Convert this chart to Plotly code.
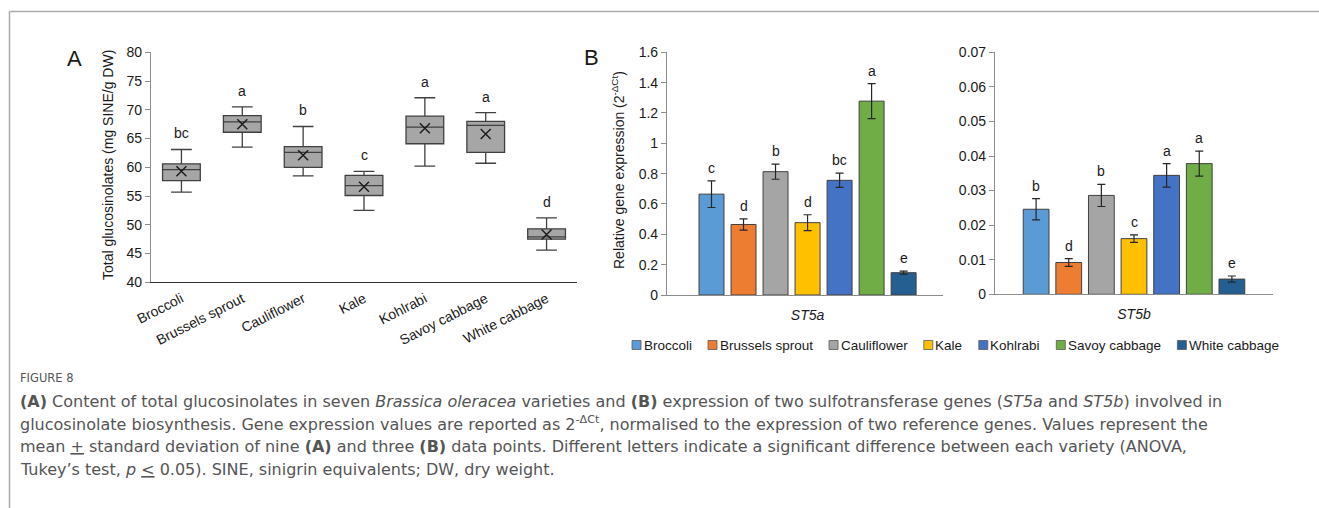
import plotly.graph_objects as go

W, H = 1319, 508

# ---------------- data ----------------
varieties = ["Broccoli", "Brussels sprout", "Cauliflower", "Kale", "Kohlrabi",
             "Savoy cabbage", "White cabbage"]
colors = ["#5B9BD5", "#ED7D31", "#A5A5A5", "#FFC000", "#4472C4", "#70AD47", "#255E91"]

# Panel A: total glucosinolates (mg SINE/g DW), box statistics
gl_lower = [55.7, 63.5, 58.5, 52.5, 60.2, 60.7, 45.6]
gl_q1 = [57.7, 66.1, 60.0, 55.1, 64.1, 62.6, 47.5]
gl_median = [59.6, 67.9, 62.6, 56.8, 67.0, 67.3, 47.9]
gl_q3 = [60.6, 69.0, 63.6, 58.6, 68.9, 68.0, 49.3]
gl_upper = [63.1, 70.5, 67.1, 59.3, 72.1, 69.5, 51.2]
gl_mean = [59.3, 67.5, 62.1, 56.6, 66.8, 65.8, 48.3]
gl_letters = ["bc", "a", "b", "c", "a", "a", "d"]
gl_yticks = [40, 45, 50, 55, 60, 65, 70, 75, 80]

# Panel B: relative gene expression
st5a_mean = [0.665, 0.465, 0.813, 0.477, 0.756, 1.278, 0.147]
st5a_sd = [0.088, 0.037, 0.050, 0.052, 0.047, 0.115, 0.010]
st5a_letters = ["c", "d", "b", "d", "bc", "a", "e"]
st5a_ticks = [0, 0.2, 0.4, 0.6, 0.8, 1.0, 1.2, 1.4, 1.6]
st5a_ticktext = ["0", "0.2", "0.4", "0.6", "0.8", "1", "1.2", "1.4", "1.6"]

st5b_mean = [0.0246, 0.0092, 0.0286, 0.0161, 0.0344, 0.0378, 0.0044]
st5b_sd = [0.0031, 0.0011, 0.0032, 0.0011, 0.0034, 0.0036, 0.0009]
st5b_letters = ["b", "d", "b", "c", "a", "a", "e"]
st5b_ticks = [0, 0.01, 0.02, 0.03, 0.04, 0.05, 0.06, 0.07]
st5b_ticktext = ["0", "0.01", "0.02", "0.03", "0.04", "0.05", "0.06", "0.07"]

genes = ["ST5a", "ST5b"]

caption_title = "FIGURE 8"
caption_lines = [
    "<b>(A)</b> Content of total glucosinolates in seven <i>Brassica oleracea</i> varieties and <b>(B)</b> expression of two sulfotransferase genes (<i>ST5a</i> and <i>ST5b</i>) involved in",
    "glucosinolate biosynthesis. Gene expression values are reported as 2<sup>-ΔCt</sup>, normalised to the expression of two reference genes. Values represent the",
    "mean <u>+</u> standard deviation of nine <b>(A)</b> and three <b>(B)</b> data points. Different letters indicate a significant difference between each variety (ANOVA,",
    "Tukey’s test, <i>p</i> <u>&lt;</u> 0.05). SINE, sinigrin equivalents; DW, dry weight.",
]

# ---------------- helpers ----------------
FONT = "Liberation Sans, Arial, sans-serif"
CAP_FONT = "DejaVu Sans, sans-serif"
TXT = "#1a1a1a"
FS = 14


def px_x(x):
    return x / W


def px_y(y):
    return 1 - y / H


fig = go.Figure()

# ---------------- Panel A ----------------
fig.add_trace(go.Box(
    x=varieties, q1=gl_q1, median=gl_median, q3=gl_q3,
    lowerfence=gl_lower, upperfence=gl_upper,
    fillcolor="#A6A6A6", line=dict(color="#404040", width=1.3),
    width=0.62, whiskerwidth=0.55, boxpoints=False,
    xaxis="x", yaxis="y", showlegend=False, hoverinfo="skip"))
fig.add_trace(go.Scatter(
    x=varieties, y=gl_mean, mode="markers",
    marker=dict(symbol="x-thin", size=10, line=dict(color="#1a1a1a", width=1.4)),
    xaxis="x", yaxis="y", showlegend=False, hoverinfo="skip"))

annotations = []
for v, up, lt in zip(varieties, gl_upper, gl_letters):
    annotations.append(dict(x=v, y=up, xref="x", yref="y", text=lt, showarrow=False,
                            xanchor="center", yanchor="bottom", yshift=6,
                            font=dict(family=FONT, size=FS, color=TXT)))

# ---------------- Panel B ----------------
for i, (name, col) in enumerate(zip(varieties, colors)):
    fig.add_trace(go.Bar(
        x=[i], y=[st5a_mean[i]], width=0.78, name=name,
        marker=dict(color=col, line=dict(color="#404040", width=1)),
        error_y=dict(type="data", array=[st5a_sd[i]], color="#262626", thickness=1.2, width=4),
        xaxis="x2", yaxis="y2", showlegend=False, hoverinfo="skip"))
    fig.add_trace(go.Bar(
        x=[i], y=[st5b_mean[i]], width=0.79, name=name,
        marker=dict(color=col, line=dict(color="#404040", width=1)),
        error_y=dict(type="data", array=[st5b_sd[i]], color="#262626", thickness=1.2, width=4),
        xaxis="x3", yaxis="y3", showlegend=False, hoverinfo="skip"))
    annotations.append(dict(x=i, y=st5a_mean[i] + st5a_sd[i], xref="x2", yref="y2",
                            text=st5a_letters[i], showarrow=False, xanchor="center",
                            yanchor="bottom", yshift=3,
                            font=dict(family=FONT, size=FS, color=TXT)))
    annotations.append(dict(x=i, y=st5b_mean[i] + st5b_sd[i], xref="x3", yref="y3",
                            text=st5b_letters[i], showarrow=False, xanchor="center",
                            yanchor="bottom", yshift=3,
                            font=dict(family=FONT, size=FS, color=TXT)))

# axis titles & panel letters
annotations.append(dict(x=px_x(108), y=px_y(165), xref="paper", yref="paper",
                        xanchor="center", yanchor="middle",
                        text="Total glucosinolates (mg SINE/g DW)", textangle=-90, showarrow=False,
                        font=dict(family=FONT, size=FS, color=TXT)))
annotations.append(dict(x=px_x(618), y=px_y(170), xref="paper", yref="paper",
                        xanchor="center", yanchor="middle",
                        text="Relative gene expression (2<sup>-ΔCt</sup>)", textangle=-90, showarrow=False,
                        font=dict(family=FONT, size=FS, color=TXT)))
annotations.append(dict(x=px_x(74), y=px_y(58), xref="paper", yref="paper", text="A",
                        xanchor="center", yanchor="middle",
                        showarrow=False, font=dict(family=FONT, size=22, color=TXT)))
annotations.append(dict(x=px_x(591), y=px_y(57), xref="paper", yref="paper", text="B",
                        xanchor="center", yanchor="middle",
                        showarrow=False, font=dict(family=FONT, size=22, color=TXT)))

# ---------------- manual legend ----------------
ARIAL_W = {"a": 556, "b": 556, "c": 500, "e": 556, "f": 278, "g": 556, "h": 556, "i": 222,
           "l": 222, "o": 556, "p": 556, "r": 333, "s": 500, "t": 278, "u": 556, "v": 500,
           "w": 722, "y": 500, " ": 278, "B": 667, "C": 722, "K": 667, "S": 667, "W": 944}
LEG_SIZE = 13.5


def text_w(s):
    return sum(ARIAL_W.get(ch, 556) for ch in s) * LEG_SIZE / 1000.0


shapes = []
lx = 632.0
ly = 345.0
for name, col in zip(varieties, colors):
    shapes.append(dict(type="rect", xref="paper", yref="paper",
                       x0=px_x(lx), x1=px_x(lx + 9), y0=px_y(ly + 4.5), y1=px_y(ly - 4.5),
                       fillcolor=col, line=dict(color="#595959", width=0.8)))
    annotations.append(dict(x=px_x(lx + 9.5), y=px_y(ly), xref="paper", yref="paper", text=name,
                            xanchor="left", yanchor="middle", showarrow=False,
                            font=dict(family=FONT, size=LEG_SIZE, color=TXT)))
    lx += 11 + text_w(name) + 17

# ---------------- caption ----------------
annotations.append(dict(x=px_x(18), y=px_y(378), xref="paper", yref="paper", text=caption_title,
                        xanchor="left", yanchor="middle", showarrow=False,
                        font=dict(family=CAP_FONT, size=11.5, color="#555555")))
for k, line in enumerate(caption_lines):
    annotations.append(dict(x=px_x(18), y=px_y(401 + 22.7 * k), xref="paper", yref="paper", text=line,
                            xanchor="left", yanchor="middle", showarrow=False,
                            font=dict(family=CAP_FONT, size=16, color="#555555")))

# frame lines
shapes.append(dict(type="line", xref="paper", yref="paper", x0=px_x(9.5), x1=px_x(9.5),
                   y0=0, y1=px_y(11.5), line=dict(color="#aaaaaa", width=1.5)))
shapes.append(dict(type="line", xref="paper", yref="paper", x0=px_x(9.5), x1=1,
                   y0=px_y(11.5), y1=px_y(11.5), line=dict(color="#aaaaaa", width=1.5)))

tickfont = dict(family=FONT, size=FS, color=TXT)
yax_common = dict(showgrid=False, zeroline=False, showline=True, linecolor="#8c8c8c", linewidth=1.2,
                  ticks="outside", ticklen=5, tickcolor="#8c8c8c", tickfont=tickfont, fixedrange=True,
                  automargin=False)

fig.update_layout(
    width=W, height=H, margin=dict(l=0, r=0, t=0, b=0, pad=0, autoexpand=False),
    paper_bgcolor="white", plot_bgcolor="white",
    barmode="overlay", showlegend=False,
    xaxis=dict(domain=[px_x(151), px_x(577)], range=[-0.5, 6.5], showgrid=False, zeroline=False,
               showline=True, linecolor="#333333", linewidth=1.2, ticks="", tickangle=-27,
               ticklabelstandoff=2, automargin=False,
               tickfont=tickfont, anchor="y"),
    yaxis=dict(domain=[px_y(282.3), px_y(52.3)], range=[40, 80], tickvals=gl_yticks, anchor="x",
               **yax_common),
    xaxis2=dict(domain=[px_x(667), px_x(943)], range=[-1.39, 7.23], showgrid=False, zeroline=False,
                showline=True, linecolor="#8c8c8c", linewidth=1.2, ticks="", ticklabelstandoff=7,
                automargin=False,
                tickvals=[3], ticktext=["<i>%s</i>" % genes[0]], tickfont=tickfont, anchor="y2"),
    yaxis2=dict(domain=[px_y(295), px_y(52.3)], range=[0, 1.6], tickvals=st5a_ticks,
                ticktext=st5a_ticktext, anchor="x2", **yax_common),
    xaxis3=dict(domain=[px_x(995), px_x(1273)], range=[-1.26, 7.26], showgrid=False, zeroline=False,
                showline=True, linecolor="#8c8c8c", linewidth=1.2, ticks="", ticklabelstandoff=7,
                automargin=False,
                tickvals=[3], ticktext=["<i>%s</i>" % genes[1]], tickfont=tickfont, anchor="y3"),
    yaxis3=dict(domain=[px_y(294.3), px_y(52.3)], range=[0, 0.07], tickvals=st5b_ticks,
                ticktext=st5b_ticktext, anchor="x3", **yax_common),
    annotations=annotations, shapes=shapes,
)

fig.write_html("out.html")
